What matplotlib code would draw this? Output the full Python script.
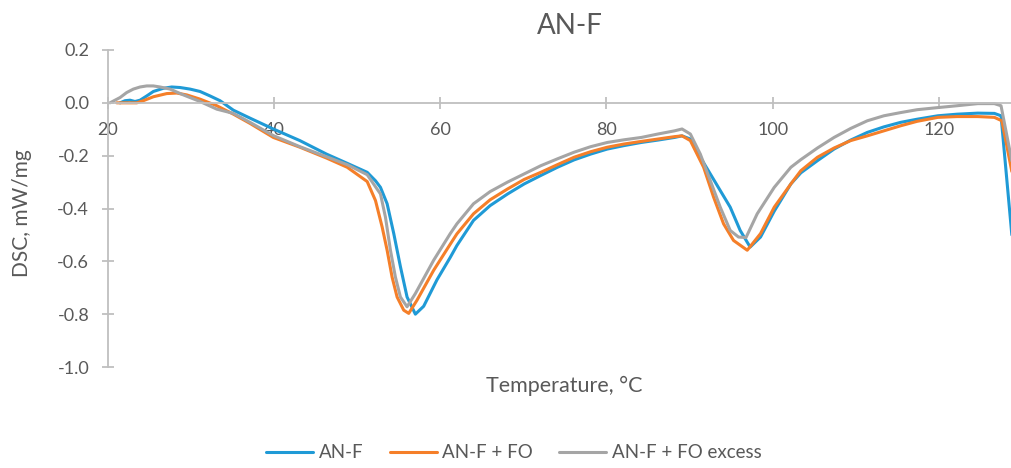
import matplotlib
matplotlib.use("Agg")
import matplotlib.pyplot as plt

plt.rcParams['font.family'] = ['Lato', 'DejaVu Sans']

# ---- data ----
anf_x = [21.45, 22.05, 22.65, 23.25, 23.86, 24.66, 25.46, 26.66, 27.67, 28.67, 29.88, 31.08,
         32.29, 33.49, 35.1, 37.1, 39.9, 43.1, 46.3, 48.8, 51.2, 52.2, 52.8, 53.6, 54.4, 55.2,
         56.0, 57.0, 58.0, 59.6, 61.2, 62.0, 64.0, 66.0, 68.1, 70.1, 72.1, 74.1, 76.1, 78.1,
         80.1, 82.1, 84.2, 86.2, 88.2, 89.1, 90.1, 91.3, 92.5, 93.7, 94.9, 96.1, 97.3, 98.55,
         100.2, 102.2, 103.4, 105.4, 107.4, 109.4, 111.4, 113.4, 115.4, 117.4, 119.9, 122.2,
         124.7, 126.7, 127.5, 128.8]
anf_y = [0.0, 0.008, 0.01, 0.005, 0.01, 0.026, 0.043, 0.055, 0.06, 0.058, 0.052, 0.043,
         0.026, 0.008, -0.028, -0.058, -0.099, -0.143, -0.194, -0.229, -0.263, -0.295, -0.32, -0.382, -0.495, -0.62,
         -0.735, -0.80, -0.77, -0.67, -0.585, -0.54, -0.445, -0.389, -0.345, -0.307, -0.275, -0.244, -0.216, -0.194,
         -0.175, -0.162, -0.150, -0.141, -0.131, -0.125, -0.137, -0.206, -0.269, -0.332, -0.395, -0.483, -0.546, -0.508,
         -0.41, -0.307, -0.265, -0.219, -0.175, -0.141, -0.112, -0.091, -0.074, -0.062, -0.049, -0.043,
         -0.039, -0.040, -0.049, -0.50]

anffo_x = [21.05, 23.46, 24.25, 25.46, 27.07, 28.27, 29.48, 31.08, 33.1, 35.1, 37.1, 39.9,
           43.1, 46.3, 48.8, 51.2, 52.2, 53.0, 53.6, 54.2, 54.8, 55.6, 56.2, 57.2, 59.2, 61.2,
           62.0, 64.0, 66.0, 68.1, 70.1, 72.1, 74.1, 76.1, 78.1, 80.1, 82.1, 84.2, 86.2, 88.2,
           89.1, 90.1, 91.7, 92.9, 94.1, 95.3, 96.95, 98.55, 100.2, 102.2, 103.4, 105.4, 107.4,
           109.4, 111.4, 113.4, 115.4, 117.4, 119.9, 122.2, 124.7, 126.7, 127.6, 128.8]
anffo_y = [0.0, 0.0, 0.008, 0.023, 0.035, 0.037, 0.03, 0.014, -0.011, -0.043, -0.078, -0.131,
           -0.168, -0.209, -0.244, -0.298, -0.37, -0.47, -0.558, -0.66, -0.735, -0.785, -0.797, -0.747, -0.634, -0.535,
           -0.496, -0.420, -0.367, -0.326, -0.290, -0.263, -0.234, -0.206, -0.185, -0.168, -0.156, -0.146, -0.137, -0.128,
           -0.125, -0.143, -0.244, -0.357, -0.458, -0.521, -0.558, -0.495, -0.395, -0.307, -0.257, -0.206, -0.171,
           -0.143, -0.125, -0.106, -0.087, -0.070, -0.055, -0.052, -0.052, -0.055, -0.068, -0.26]

excess_x = [20.24, 21.45, 22.25, 23.05, 23.86, 24.66, 25.46, 26.27, 27.47, 29.07, 31.08, 33.1,
            35.1, 37.1, 39.9, 43.1, 46.3, 48.8, 51.2, 52.8, 53.4, 54.0, 54.6, 55.2, 56.0, 57.0,
            59.2, 61.2, 62.0, 64.0, 66.0, 68.1, 70.1, 72.1, 74.1, 76.1, 78.1, 80.1, 82.1, 84.2,
            86.2, 88.2, 89.1, 90.1, 91.3, 92.5, 93.7, 94.9, 95.9, 96.8, 98.15, 100.2, 102.2, 103.4,
            105.4, 107.4, 109.4, 111.4, 113.4, 115.4, 117.4, 119.9, 122.2, 124.7, 126.7, 127.5, 128.8]
excess_y = [0.0, 0.02, 0.039, 0.052, 0.06, 0.064, 0.064, 0.06, 0.052, 0.03, 0.005, -0.024,
            -0.040, -0.074, -0.124, -0.166, -0.204, -0.234, -0.272, -0.345, -0.433, -0.558, -0.66, -0.735, -0.772, -0.722,
            -0.596, -0.495, -0.458, -0.382, -0.336, -0.300, -0.269, -0.238, -0.212, -0.187, -0.166, -0.150, -0.140, -0.131,
            -0.118, -0.106, -0.099, -0.118, -0.194, -0.294, -0.395, -0.483, -0.508, -0.51, -0.42, -0.320, -0.244, -0.215,
            -0.171, -0.131, -0.097, -0.068, -0.049, -0.037, -0.026, -0.018, -0.011, -0.003, -0.003, -0.011, -0.22]

x_ticks = [20, 40, 60, 80, 100, 120]
y_ticks = [0.2, 0.0, -0.2, -0.4, -0.6, -0.8, -1.0]
series_names = ['AN-F', 'AN-F + FO', 'AN-F + FO excess']
colors = ['#1f9ad6', '#f57f29', '#a5a5a5']

W, H = 1011, 468
fig = plt.figure(figsize=(W / 100, H / 100), dpi=100)
ax = fig.add_axes([108 / W, 1 - 367 / H, (1011 - 108) / W, (367 - 50) / H])

for xs, ys, name, c in zip([anf_x, anffo_x, excess_x], [anf_y, anffo_y, excess_y],
                           series_names, colors):
    ax.plot(xs, ys, color=c, lw=2.2, label=name, solid_joinstyle='round',
            solid_capstyle='round')

ax.set_xlim(20, 128.7)
ax.set_ylim(-1.0, 0.2)
ax.set_xticks(x_ticks)
ax.set_yticks(y_ticks)
ax.set_yticklabels([f'{v:.1f}' for v in y_ticks])

axis_col = '#bfbfbf'
txt_col = '#595959'
for s in ['top', 'right']:
    ax.spines[s].set_visible(False)
ax.spines['bottom'].set_position(('data', 0))
ax.spines['bottom'].set_color(axis_col)
ax.spines['left'].set_color(axis_col)
ax.spines['bottom'].set_linewidth(1.3)
ax.spines['left'].set_linewidth(1.3)
ax.tick_params(axis='both', direction='inout', length=9, width=1.3, color=axis_col,
               labelcolor=txt_col, labelsize=13, pad=9)
ax.set_zorder(1)

fig.text(570 / W, 1 - 26 / H, 'AN-F', ha='center', va='center', fontsize=20, color=txt_col)
fig.text(564 / W, 1 - 386 / H, 'Temperature, °C', ha='center', va='center', fontsize=15.5, color=txt_col)
fig.text(22 / W, 1 - 213 / H, 'DSC, mW/mg', ha='center', va='center', rotation=90,
         fontsize=15, color=txt_col)

leg = fig.legend(*ax.get_legend_handles_labels(), loc='center', bbox_to_anchor=(514 / W, 1 - 453 / H),
                 ncol=3, frameon=False, fontsize=13.5, handlelength=2.5, handletextpad=0.3,
                 columnspacing=1.4)
for t in leg.get_texts():
    t.set_color(txt_col)

fig.savefig('out.png', dpi=100)
